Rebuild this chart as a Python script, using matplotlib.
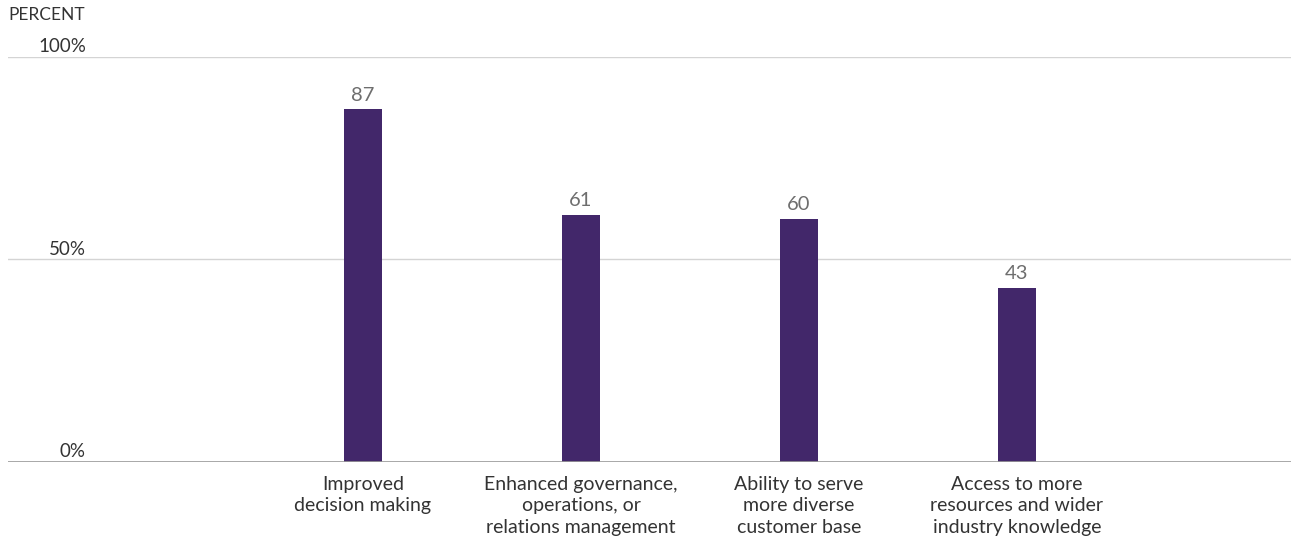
import matplotlib.pyplot as plt
import matplotlib.transforms as mtransforms

# --- DATA ---
categories = [
    "Improved\ndecision making",
    "Enhanced governance,\noperations, or\nrelations management",
    "Ability to serve\nmore diverse\ncustomer base",
    "Access to more\nresources and wider\nindustry knowledge",
]
values = [87, 61, 60, 43]
y_ticks = [0, 50, 100]
y_tick_labels = ["0%", "50%", "100%"]

# --- STYLE ---
W, H, DPI = 1291, 539, 100
BAR_COLOR = "#42276a"
plt.rcParams["font.family"] = ["Lato", "DejaVu Sans"]

fig = plt.figure(figsize=(W / DPI, H / DPI), dpi=DPI)
ax = fig.add_axes([8 / W, (H - 461.7) / H, 1 - 8 / W, (461.7 - 56.7) / H])

x = list(range(len(values)))
ax.bar(x, values, width=0.174, color=BAR_COLOR, zorder=3)

# x range chosen so bars land at the reference positions
ax.set_xlim((8 - 363) / 218, (1291 - 363) / 218)
ax.set_ylim(0, 100)

# gridlines / baseline
for t in y_ticks:
    if t == 0:
        ax.axhline(t, color="#9a9a9a", lw=1.2, zorder=4)
    else:
        ax.axhline(t, color="#d4d4d4", lw=1.0, zorder=1)

ax.set_xticks([])
ax.set_yticks([])
for s in ax.spines.values():
    s.set_visible(False)

# y labels sit a little above their gridlines
trans = mtransforms.blended_transform_factory(fig.transFigure, ax.transData)
offset = mtransforms.offset_copy(trans, fig=fig, y=1, units="points")
for t, lab in zip(y_ticks, y_tick_labels):
    ax.text(86 / W, t, lab, transform=offset, ha="right", va="bottom",
            fontsize=13.5, color="#333333")
fig.text(8 / W, 1 - 7 / H, "PERCENT", ha="left", va="top",
         fontsize=12.5, color="#333333")

# value labels
for xi, v in zip(x, values):
    ax.annotate(str(v), (xi, v), xytext=(0, 4), textcoords="offset points",
                ha="center", va="bottom", fontsize=14.5, color="#6e6e6e")

# category labels
for xi, lab in zip(x, categories):
    ax.annotate(lab, (xi, 0), xytext=(0, -10), textcoords="offset points",
                ha="center", va="top", fontsize=14, color="#333333",
                linespacing=1.33)

fig.savefig("out.png", dpi=DPI)
